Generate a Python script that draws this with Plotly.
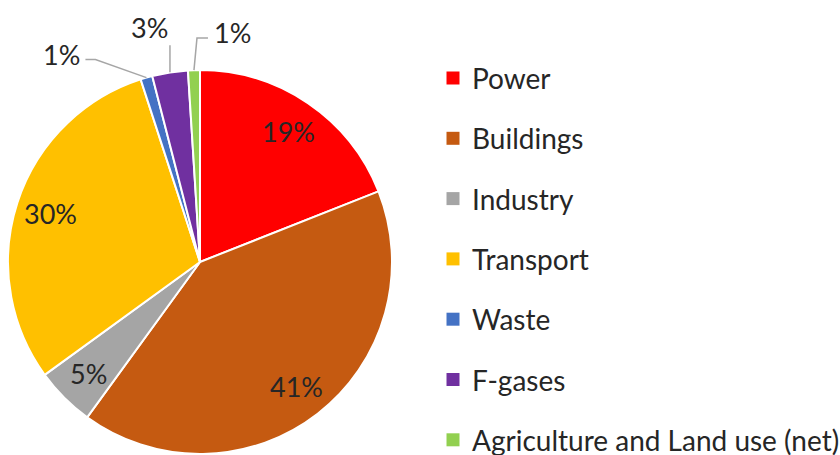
import math
import plotly.graph_objects as go

# ---------------- data ----------------
labels = ["Power", "Buildings", "Industry", "Transport", "Waste", "F-gases",
          "Agriculture and Land use (net)"]
values = [19, 41, 5, 30, 1, 3, 1]
colors = ["#FF0000", "#C55A11", "#A5A5A5", "#FFC000", "#4472C4", "#7030A0", "#92D050"]

# ---------------- geometry (pixels) ----------------
W, H = 840, 455
CX, CY, R = 200, 262, 192
FONT = "Lato"
TXT = "#262626"
FS_PIE = 27
FS_LEG = 28


def px(x):
    return x / W


def py(y):
    return 1 - y / H


fig = go.Figure()
fig.add_trace(go.Pie(
    labels=labels, values=values, sort=False, direction="clockwise", rotation=0,
    marker=dict(colors=colors, line=dict(color="white", width=2)),
    textinfo="none", hoverinfo="label+percent", showlegend=False,
    domain=dict(x=[px(CX - R), px(CX + R)], y=[py(CY + R), py(CY - R)]),
))

total = sum(values)
cum = 0
annotations = []
shapes = []
mids = []
for v in values:
    a0 = cum / total * 360
    cum += v
    a1 = cum / total * 360
    mids.append((a0 + a1) / 2)


def polar(ang, r):
    t = math.radians(ang)
    return CX + r * math.sin(t), CY - r * math.cos(t)


pct = [f"{round(v / total * 100)}%" for v in values]

# inside labels for larger slices
for i, v in enumerate(values):
    if v / total >= 0.04:
        x, y = polar(mids[i], 0.82 * R)
        annotations.append(dict(x=px(x), y=py(y), xref="paper", yref="paper",
                                text=pct[i], showarrow=False,
                                xanchor="center", yanchor="middle",
                                font=dict(family=FONT, size=FS_PIE, color=TXT)))

# outside labels with leader lines for the small slices
outside = {
    4: dict(pts=[(-51, -18), (-61, -18)], text=(-64, -23), anchor="right"),
    5: dict(pts=[(0, -27)], text=(-20, -45), anchor="center"),
    6: dict(pts=[(3, -32), (14, -32)], text=(18, -38), anchor="left"),
}
for i, cfg in outside.items():
    ex, ey = polar(mids[i], R)
    path = f"M {px(ex)},{py(ey)}"
    for dx, dy in cfg["pts"]:
        path += f" L {px(ex + dx)},{py(ey + dy)}"
    shapes.append(dict(type="path", path=path, xref="paper", yref="paper",
                       line=dict(color="#A6A6A6", width=1.5)))
    tx, ty = ex + cfg["text"][0], ey + cfg["text"][1]
    annotations.append(dict(x=px(tx), y=py(ty), xref="paper", yref="paper",
                            text=pct[i], showarrow=False,
                            xanchor=cfg["anchor"], yanchor="middle",
                            font=dict(family=FONT, size=FS_PIE, color=TXT)))

# manual legend
LX, LY0, LDY, SQ = 453, 78, 60.3, 13
for i, lab in enumerate(labels):
    cy = LY0 + i * LDY
    shapes.append(dict(type="rect", xref="paper", yref="paper",
                       x0=px(LX - SQ / 2), x1=px(LX + SQ / 2),
                       y0=py(cy + SQ / 2), y1=py(cy - SQ / 2),
                       fillcolor=colors[i], line=dict(width=0)))
    annotations.append(dict(x=px(470), y=py(cy), xref="paper", yref="paper",
                            text=lab, showarrow=False, xanchor="left", yanchor="middle",
                            font=dict(family=FONT, size=FS_LEG, color=TXT)))

fig.update_layout(
    width=W, height=H, margin=dict(l=0, r=0, t=0, b=0),
    paper_bgcolor="white", plot_bgcolor="white",
    showlegend=False, annotations=annotations, shapes=shapes,
)
fig.write_html("out.html", config={"displayModeBar": False},
               post_script="document.body.style.margin='0';document.body.style.overflow='hidden';")
